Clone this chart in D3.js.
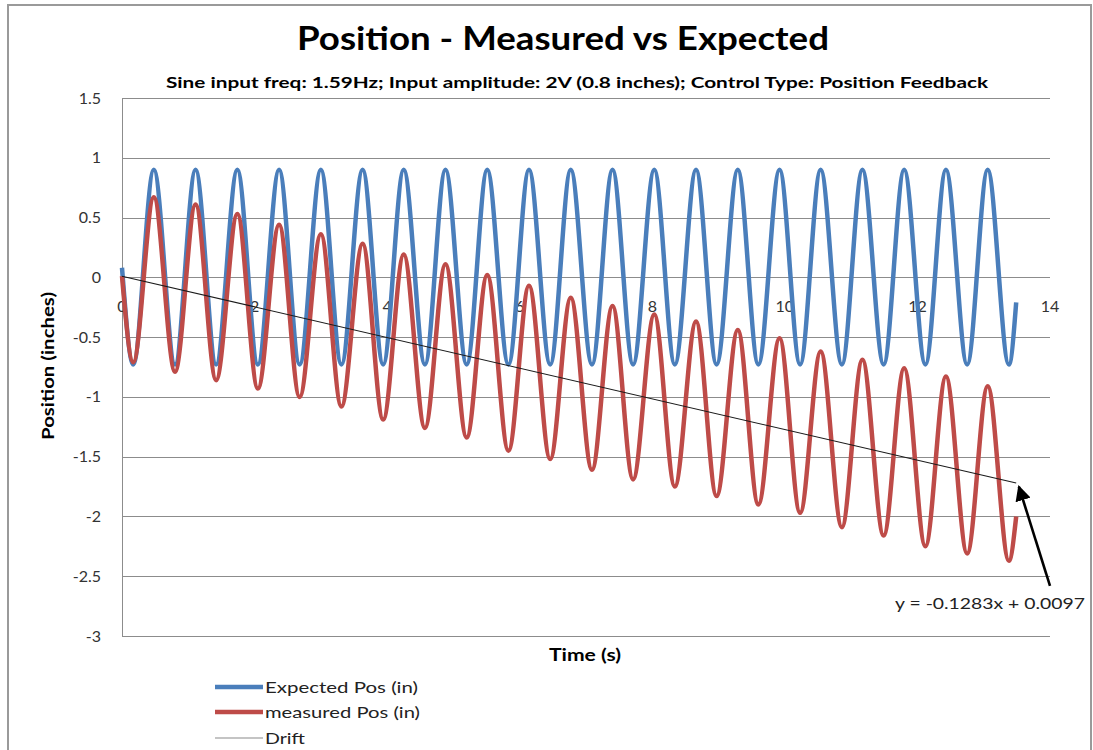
<!DOCTYPE html>
<html>
<head>
<meta charset="utf-8">
<script src="https://cdn.jsdelivr.net/npm/d3@7"></script>
<style>
  html, body { margin: 0; padding: 0; background: #fff; }
  svg { display: block; }
  text { font-family: Lato, "Open Sans", sans-serif; }
</style>
</head>
<body>
<svg id="chart" width="1093" height="750"></svg>
<script>
// ---- Data ----
// times (s) of the start point, each trough/peak, and the last sample
const times = [0, 0.17, 0.48, 0.80, 1.11, 1.42, 1.74, 2.05, 2.37, 2.68, 3.00, 3.31, 3.63, 3.94, 4.25, 4.57, 4.88, 5.20, 5.51, 5.83, 6.14, 6.46, 6.77, 7.09, 7.40, 7.71, 8.03, 8.34, 8.66, 8.97, 9.29, 9.60, 9.92, 10.23, 10.54, 10.86, 11.17, 11.49, 11.80, 12.12, 12.43, 12.75, 13.06, 13.38, 13.49];
const expectedPos = [0.08, -0.73, 0.90, -0.73, 0.90, -0.73, 0.90, -0.73, 0.90, -0.73, 0.90, -0.73, 0.90, -0.73, 0.90, -0.73, 0.90, -0.73, 0.90, -0.73, 0.90, -0.73, 0.90, -0.73, 0.90, -0.73, 0.90, -0.73, 0.90, -0.73, 0.90, -0.73, 0.90, -0.73, 0.90, -0.73, 0.90, -0.73, 0.90, -0.73, 0.90, -0.73, 0.90, -0.73, -0.21];
const measuredPos = [0.01, -0.71, 0.67, -0.79, 0.61, -0.86, 0.53, -0.93, 0.44, -1.00, 0.36, -1.08, 0.28, -1.19, 0.19, -1.26, 0.11, -1.34, 0.02, -1.45, -0.07, -1.52, -0.17, -1.61, -0.24, -1.69, -0.31, -1.75, -0.37, -1.83, -0.44, -1.90, -0.51, -1.97, -0.62, -2.09, -0.69, -2.16, -0.76, -2.25, -0.83, -2.31, -0.91, -2.37, -2.00];
const driftTimes = [0, 13.49];
const driftValues = [0.0097, -1.721];
const xTicks = [0, 2, 4, 6, 8, 10, 12, 14];
const xTickLabels = ["0", "2", "4", "6", "8", "10", "12", "14"];
const yTicks = [1.5, 1, 0.5, 0, -0.5, -1, -1.5, -2, -2.5, -3];
const yTickLabels = ["1.5", "1", "0.5", "0", "-0.5", "-1", "-1.5", "-2", "-2.5", "-3"];
const seriesNames = ["Expected Pos (in)", "measured Pos (in)", "Drift"];
const equationLabel = "y = -0.1283x + 0.0097";
const arrowFrom = [14.0, -2.58];
const arrowTo = [13.53, -1.75];

// ---- Layout ----
const svg = d3.select("#chart");
const x = d3.scaleLinear().domain([0, 14]).range([122, 1050]);
const y = d3.scaleLinear().domain([-3, 1.5]).range([636, 98]);

const colors = { expected: "#4A7EBB", measured: "#BE4B48", drift: "#1a1a1a", grid: "#8c8c8c" };

// outer border
svg.append("rect").attr("x", 8).attr("y", 5).attr("width", 1083).attr("height", 760)
  .attr("fill", "none").attr("stroke", "#9a9a9a").attr("stroke-width", 2);

// gridlines
svg.append("g").selectAll("line").data(yTicks).join("line")
  .attr("x1", x(0)).attr("x2", x(14))
  .attr("y1", d => Math.round(y(d)) + 0.5).attr("y2", d => Math.round(y(d)) + 0.5)
  .attr("stroke", colors.grid).attr("stroke-width", 1);

// y axis line
svg.append("line").attr("x1", x(0) + 0.5).attr("x2", x(0) + 0.5)
  .attr("y1", y(1.5)).attr("y2", y(-3)).attr("stroke", colors.grid);

// y tick labels
svg.append("g").selectAll("text").data(yTicks).join("text")
  .attr("x", 101).attr("y", d => y(d)).attr("dy", "0.35em")
  .attr("text-anchor", "end").attr("font-size", 16).attr("fill", "#333")
  .text((d, i) => yTickLabels[i]);

// x tick labels
svg.append("g").selectAll("text").data(xTicks).join("text")
  .attr("x", d => x(d)).attr("y", y(0) + 29).attr("dy", "0.35em")
  .attr("text-anchor", "middle").attr("font-size", 16).attr("fill", "#333")
  .text((d, i) => xTickLabels[i]);

// series lines
const line = d3.line().x(d => x(d[0])).y(d => y(d[1])).curve(d3.curveMonotoneX);
const expData = times.map((t, i) => [t, expectedPos[i]]);
const meaData = times.map((t, i) => [t, measuredPos[i]]);

svg.append("path").datum(expData).attr("d", line)
  .attr("fill", "none").attr("stroke", colors.expected).attr("stroke-width", 4.5)
  .attr("stroke-linejoin", "round");
svg.append("path").datum(meaData).attr("d", line)
  .attr("fill", "none").attr("stroke", colors.measured).attr("stroke-width", 4.5)
  .attr("stroke-linejoin", "round");

// drift line
svg.append("path").datum(driftTimes.map((t, i) => [t, driftValues[i]]))
  .attr("d", d3.line().x(d => x(d[0])).y(d => y(d[1])))
  .attr("fill", "none").attr("stroke", colors.drift).attr("stroke-width", 1.1);

// arrow
const defs = svg.append("defs");
defs.append("marker").attr("id", "ah").attr("viewBox", "0 0 10 10")
  .attr("refX", 9).attr("refY", 5).attr("markerWidth", 6).attr("markerHeight", 6)
  .attr("orient", "auto").attr("markerUnits", "strokeWidth")
  .append("path").attr("d", "M0,0 L10,5 L0,10 z").attr("fill", "#000");
svg.append("line")
  .attr("x1", x(arrowFrom[0])).attr("y1", y(arrowFrom[1]))
  .attr("x2", x(arrowTo[0])).attr("y2", y(arrowTo[1]))
  .attr("stroke", "#000").attr("stroke-width", 2.6).attr("marker-end", "url(#ah)");

// equation label
svg.append("text").attr("x", 1085).attr("y", 604).attr("dy", "0.35em")
  .attr("text-anchor", "end").attr("font-size", 15).attr("fill", "#222")
  .attr("textLength", 190).attr("lengthAdjust", "spacingAndGlyphs")
  .text(equationLabel);

// titles
svg.append("text").attr("x", 563).attr("y", 50).attr("text-anchor", "middle")
  .attr("font-size", 33).attr("font-weight", "bold").attr("fill", "#000")
  .attr("textLength", 532).attr("lengthAdjust", "spacingAndGlyphs")
  .text("Position - Measured vs Expected");
svg.append("text").attr("x", 577).attr("y", 88).attr("text-anchor", "middle")
  .attr("font-size", 15.5).attr("font-weight", "bold").attr("fill", "#000")
  .attr("textLength", 822).attr("lengthAdjust", "spacingAndGlyphs")
  .text("Sine input freq: 1.59Hz; Input amplitude: 2V (0.8 inches); Control Type: Position Feedback");

// axis titles
svg.append("text").attr("x", 585).attr("y", 655).attr("dy", "0.35em").attr("text-anchor", "middle")
  .attr("font-size", 16.5).attr("font-weight", "bold").attr("fill", "#000")
  .attr("textLength", 72).attr("lengthAdjust", "spacingAndGlyphs")
  .text("Time (s)");
svg.append("text").attr("transform", "translate(48,366) rotate(-90)")
  .attr("dy", "0.35em").attr("text-anchor", "middle")
  .attr("font-size", 17).attr("font-weight", "bold").attr("fill", "#000")
  .attr("textLength", 148).attr("lengthAdjust", "spacingAndGlyphs")
  .text("Position (inches)");

// legend
const legendY = [687, 712, 738];
const legendStroke = [colors.expected, colors.measured, "#8a8a8a"];
const legendWidth = [4.5, 4.5, 1.2];
const legendTextLen = [153, 155, 40];
const lg = svg.append("g");
seriesNames.forEach((name, i) => {
  lg.append("line").attr("x1", 215).attr("x2", 263)
    .attr("y1", legendY[i]).attr("y2", legendY[i])
    .attr("stroke", legendStroke[i]).attr("stroke-width", legendWidth[i]);
  lg.append("text").attr("x", 265).attr("y", legendY[i]).attr("dy", "0.35em")
    .attr("font-size", 16).attr("fill", "#222")
    .attr("textLength", legendTextLen[i]).attr("lengthAdjust", "spacingAndGlyphs")
    .text(name);
});
</script>
</body>
</html>
